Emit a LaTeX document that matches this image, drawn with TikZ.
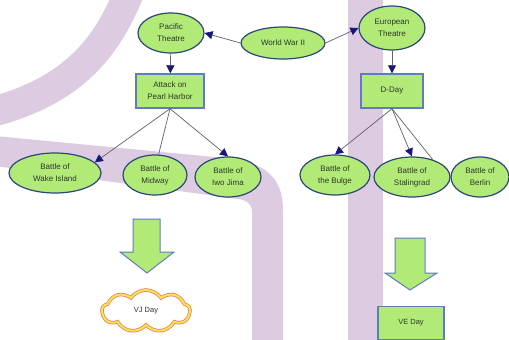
\documentclass[tikz,border=0pt]{standalone}
\usepackage{fontspec}
\setmainfont{Liberation Sans}
\usetikzlibrary{shapes.geometric,shapes.symbols,arrows.meta}
\definecolor{band}{RGB}{221,204,225}
\definecolor{gfill}{RGB}{178,234,120}
\definecolor{eline}{RGB}{44,70,120}
\definecolor{rline}{RGB}{96,124,190}
\definecolor{conn}{RGB}{95,95,115}
\definecolor{tipc}{RGB}{24,24,120}
\definecolor{txt}{RGB}{45,55,40}
\definecolor{cloudout}{RGB}{225,125,95}
\definecolor{cloudin}{RGB}{250,228,80}
\begin{document}
\begin{tikzpicture}[x=1pt,y=-1pt,
  ev/.style={ellipse, draw=eline, line width=1.2pt, fill=gfill, inner sep=0pt, align=center,
    font=\fontsize{8}{12}\selectfont, text=txt},
  bx/.style={rectangle, draw=rline, line width=1.4pt, fill=gfill, inner sep=0pt, align=center,
    font=\fontsize{8}{12}\selectfont, text=txt},
  con/.style={draw=conn, line width=0.7pt},
  arr/.style={con, -{Triangle[length=8pt,width=8pt,color=tipc]}},
  bigarrow/.style={draw=rline, line width=1pt, fill=gfill, line join=miter}]
\useasboundingbox (0,0) rectangle (509,340);
\fill[white] (0,0) rectangle (509,340);
% background watermark bands
\draw[band, line width=30pt] (131,-12) .. controls (110,40) and (80,90) .. (-12,113);
\fill[band] (-5,136) -- (225,158) .. controls (268,162) and (283,180) .. (283,210) -- (283,345)
  -- (252,345) -- (252,212) .. controls (252,203) and (246,200) .. (238,199) -- (-5,166) -- cycle;
\fill[band] (348,-5) rectangle (383,345);
% nodes
\node[ev, minimum width=84pt, minimum height=32pt] (ww) at (283,43) {World War II};
\node[ev, minimum width=66pt, minimum height=40pt] (pac) at (171,33) {Pacific\\Theatre};
\node[ev, minimum width=66pt, minimum height=44pt] (eur) at (392,28) {European\\Theatre};
\node[bx, minimum width=68pt, minimum height=34pt] (att) at (170,91) {Attack on\\Pearl Harbor};
\node[bx, minimum width=62pt, minimum height=34pt] (dday) at (392,91) {D-Day};
\node[ev, minimum width=92pt, minimum height=40pt] (wake) at (55,173) {Battle of\\Wake Island};
\node[ev, minimum width=64pt, minimum height=40pt] (mid) at (155,175) {Battle of\\Midway};
\node[ev, minimum width=66pt, minimum height=40pt] (iwo) at (228,177) {Battle of\\Iwo Jima};
\node[ev, minimum width=70pt, minimum height=40pt] (bul) at (335,175) {Battle of\\the Bulge};
\node[ev, minimum width=76pt, minimum height=40pt] (stal) at (412,177) {Battle of\\Stalingrad};
\node[ev, minimum width=58pt, minimum height=40pt] (ber) at (480,177) {Battle of\\Berlin};
% connectors
\draw[arr] (ww.west) -- (pac.east);
\draw[arr] (ww.east) -- (eur.west);
\draw[arr] (pac) -- (att);
\draw[arr] (eur) -- (dday);
\draw[arr] (att.south) -- (wake.15);
\draw[con] (att.south) -- (mid.80);
\draw[arr] (att.south) -- (iwo.north);
\draw[arr] (dday.south) -- (bul.north);
\draw[arr] (dday.south) -- (stal.north);
\draw[con] (dday.south) -- (stal.40);
% block arrows
\draw[bigarrow] (133,219) -- (160,219) -- (160,252) -- (174,252) -- (147,273) -- (120,252) -- (133,252) -- cycle;
\draw[bigarrow] (395,238) -- (425,238) -- (425,273) -- (437,273) -- (410,290) -- (385,273) -- (395,273) -- cycle;
% outcomes
\node[cloud, cloud puffs=9, cloud puff arc=110, aspect=2.2, minimum width=88pt, minimum height=42pt, draw=cloudout,
  line width=3.5pt, fill=white] (vjo) at (146,311) {};
\node[cloud, cloud puffs=9, cloud puff arc=110, aspect=2.2, minimum width=88pt, minimum height=42pt, draw=cloudin,
  line width=2pt, font=\fontsize{7.5}{11}\selectfont, text=txt] (vj) at (146,311) {VJ Day};
\node[bx, minimum width=66pt, minimum height=33pt, font=\fontsize{7.5}{11}\selectfont] (ve) at (411,323) {VE Day};
\end{tikzpicture}
\end{document}
